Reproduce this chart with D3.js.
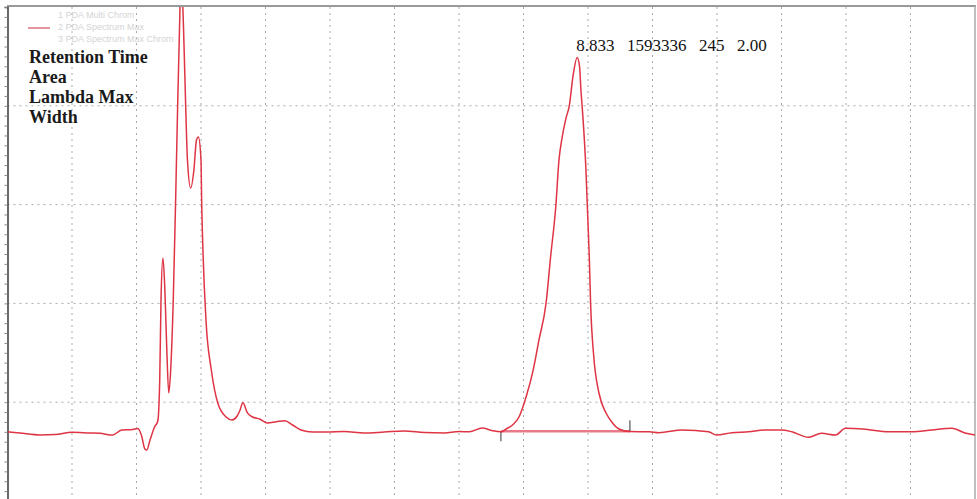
<!DOCTYPE html>
<html>
<head>
<meta charset="utf-8">
<script src="https://cdn.jsdelivr.net/npm/d3@7"></script>
<style>
  html, body { margin: 0; padding: 0; background: #fff; }
  svg { display: block; }
</style>
</head>
<body>
<svg id="chart" width="977" height="499"></svg>
<script>
// ---- data (retention time in min, absorbance in mAU) ----
const times = [0.00,0.19,0.50,0.74,1.00,1.28,1.43,1.63,1.77,1.94,2.02,2.08,2.13,2.16,2.21,2.28,2.33,2.36,2.38,2.41,2.44,2.47,2.50,2.53,2.57,2.61,2.64,2.67,2.69,2.73,2.76,2.79,2.84,2.89,2.93,2.96,3.00,3.01,3.03,3.08,3.16,3.26,3.39,3.48,3.56,3.60,3.65,3.72,3.80,3.91,4.03,4.17,4.30,4.42,4.55,4.73,4.95,5.22,5.53,5.84,6.15,6.46,6.77,7.00,7.16,7.36,7.52,7.65,7.73,7.83,7.93,8.04,8.14,8.24,8.35,8.42,8.50,8.55,8.60,8.66,8.71,8.77,8.833,8.87,8.89,8.91,8.97,8.99,9.02,9.04,9.09,9.17,9.28,9.38,9.48,9.64,9.95,10.10,10.46,10.87,10.99,11.23,11.49,11.75,12.00,12.16,12.42,12.62,12.84,12.99,13.30,13.66,14.02,14.33,14.64,14.86,15.00];
const signal = [70,68.8,66.8,67.3,69.5,68.8,68.5,66.8,71.9,72.4,73.4,65.8,52.6,51.6,61.7,74.9,81.0,122.5,203.4,246,213.6,152.8,109.3,132.6,203.4,314.8,405.9,486.8,537,476.7,405.9,345.1,316.8,335,365.4,368.4,345.1,304.7,254,180.2,132.6,99.2,85,82,86,91.1,99.5,89.1,85,83,78.9,80.3,81.3,76.9,71.9,69.8,69.8,70.3,68.8,69.8,70.9,69.3,68.8,70.3,70.1,73.9,71.2,70.1,72.9,76.9,85,105.3,129.6,163,200.4,247,297.6,345,368.4,387.7,400,431.2,449,439.3,416,398.8,332,297.6,247,200.4,145.7,109.3,89.1,79,72.9,70.3,70.1,69.1,71.9,70.1,66.8,69.1,70.1,71.9,71.9,70.1,64.5,68.5,66.8,73.6,72.6,70.1,70.1,71.9,73.6,68.5,66.8];

const peakTime = [8.833];
const peakApex = [449];
const peakStart = [7.65];
const peakEnd = [9.65];
const peakBaseline = [70.5];
const peakLabels = ["8.833", "1593336", "245", "2.00"];
const peakFields = ["Retention Time", "Area", "Lambda Max", "Width"];
const legendItems = ["1 PDA Multi Chrom", "2 PDA Spectrum Max", "3 PDA Spectrum Max Chrom"];

const xTicks = d3.range(0, 16, 1);
const yTicks = [100, 200, 300, 400];

// ---- scales ----
const svg = d3.select("#chart");
const x = d3.scaleLinear().domain([0, 15]).range([7.5, 975]);
const y = d3.scaleLinear().domain([0, 500]).range([501, 7]);

svg.append("defs").append("clipPath").attr("id", "plotclip")
  .append("rect").attr("x", 7.5).attr("y", 7).attr("width", 967.5).attr("height", 494);

// ---- grid ----
const grid = svg.append("g");
grid.selectAll(".vg").data(xTicks.slice(1, -1)).enter().append("line")
  .attr("x1", d => x(d)).attr("x2", d => x(d))
  .attr("y1", 7).attr("y2", 499)
  .attr("stroke", "#aaa").attr("stroke-width", 1)
  .attr("stroke-dasharray", "2,4");
grid.selectAll(".hg").data(yTicks).enter().append("line")
  .attr("x1", 7.5).attr("x2", 975)
  .attr("y1", d => y(d)).attr("y2", d => y(d))
  .attr("stroke", "#aaa").attr("stroke-width", 1)
  .attr("stroke-dasharray", "2,4");

// ---- borders ----
svg.append("line").attr("x1", 7).attr("x2", 976).attr("y1", 6).attr("y2", 6)
  .attr("stroke", "#999").attr("stroke-width", 2);
svg.append("line").attr("x1", 975).attr("x2", 975).attr("y1", 6).attr("y2", 499)
  .attr("stroke", "#aaa").attr("stroke-width", 1.5);
const yAxis = d3.axisLeft(y).tickValues(d3.range(0, 501, 10)).tickSize(3).tickFormat("");
svg.append("g").attr("transform", "translate(7.5,0)").call(yAxis)
  .call(g => g.select(".domain").attr("stroke", "#444").attr("stroke-width", 1.6))
  .call(g => g.selectAll(".tick line").attr("stroke", "#888"));

// ---- peak baseline ----
svg.append("line")
  .attr("x1", x(peakStart[0])).attr("x2", x(peakEnd[0]))
  .attr("y1", y(peakBaseline[0])).attr("y2", y(peakBaseline[0]))
  .attr("stroke", "#e8798a").attr("stroke-width", 2.5);
svg.append("line")
  .attr("x1", x(peakStart[0])).attr("x2", x(peakStart[0]))
  .attr("y1", y(peakBaseline[0])).attr("y2", y(peakBaseline[0]) + 10)
  .attr("stroke", "#333").attr("stroke-width", 1);
svg.append("line")
  .attr("x1", x(peakEnd[0])).attr("x2", x(peakEnd[0]))
  .attr("y1", y(peakBaseline[0]) - 11).attr("y2", y(peakBaseline[0]))
  .attr("stroke", "#333").attr("stroke-width", 1);

// ---- trace ----
const pts = times.map((t, i) => [t, signal[i]]);
const line = d3.line().x(d => x(d[0])).y(d => y(d[1])).curve(d3.curveMonotoneX);
svg.append("path").datum(pts)
  .attr("clip-path", "url(#plotclip)")
  .attr("d", line)
  .attr("fill", "none")
  .attr("stroke", "#de3444")
  .attr("stroke-width", 1.5);

// ---- legend ----
const lg = svg.append("g");
lg.selectAll("text").data(legendItems).enter().append("text")
  .attr("x", 58).attr("y", (d, i) => 18 + i * 12)
  .attr("font-family", "Liberation Sans, Arial, sans-serif")
  .attr("font-size", 9).attr("fill", "#d4d4d4")
  .text(d => d);
lg.append("line").attr("x1", 28).attr("x2", 50).attr("y1", 28).attr("y2", 28)
  .attr("stroke", "#d6505e").attr("stroke-width", 1.2);

// ---- field names ----
svg.append("g").selectAll("text").data(peakFields).enter().append("text")
  .attr("x", 29).attr("y", (d, i) => 63 + i * 20)
  .attr("font-family", "Liberation Serif, Times New Roman, serif")
  .attr("font-weight", "bold").attr("font-size", 18)
  .attr("fill", "#1a1a1a")
  .text(d => d);

// ---- peak label ----
svg.append("text")
  .attr("x", x(peakTime[0]) - 1).attr("y", 51)
  .attr("font-family", "Liberation Serif, Times New Roman, serif")
  .attr("font-size", 17).attr("fill", "#111")
  .attr("word-spacing", 2)
  .style("white-space", "pre")
  .text(peakLabels.join("  "));
</script>
</body>
</html>
